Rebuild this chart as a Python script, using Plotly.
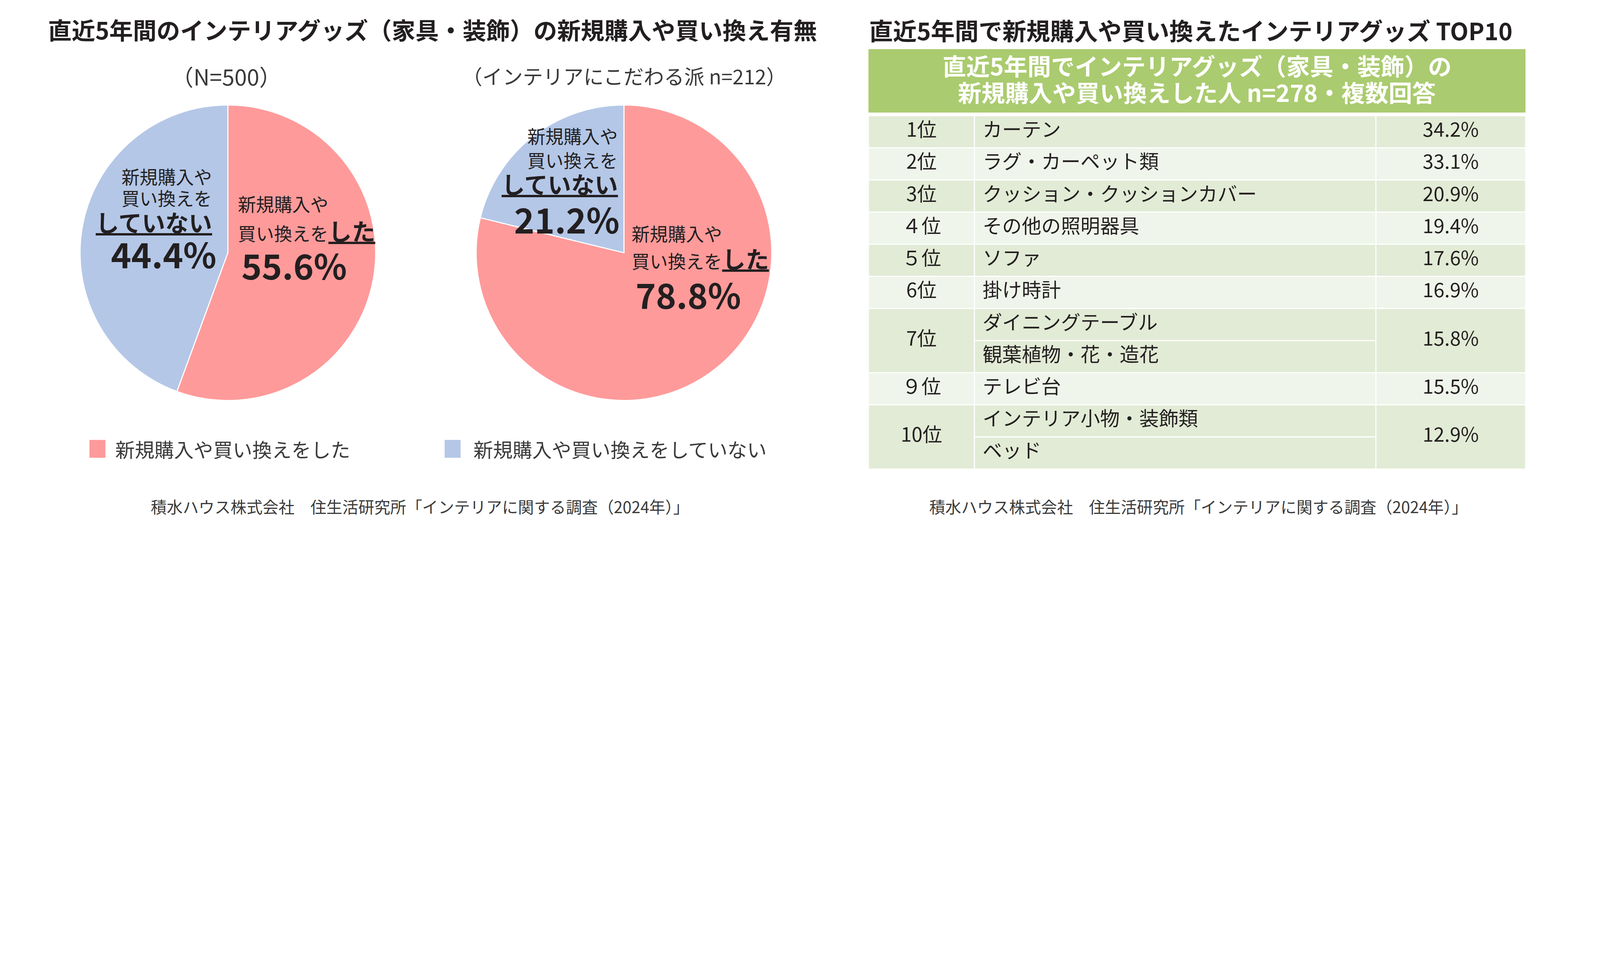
import plotly.graph_objects as go

# reference canvas (all positions below are in reference pixels)
W, H = 7484, 2489
# the viewer page is 4096 css px wide; scale the reference down to fit it
D = W / 4080
MARGIN = 8 * D      # default body margin of the page, in reference px
FONT = "Noto Sans CJK JP"
INK = "#231f20"
GREY = "#3a3a3a"

# --- pie data ---
pie_labels = ["新規購入や買い換えをした", "新規購入や買い換えをしていない"]
pie_all = [55.6, 44.4]      # N=500
pie_fans = [78.8, 21.2]     # インテリアにこだわる派 n=212
pie_colors = ["#ff9a9a", "#b4c7e7"]

# --- table data ---
ranks = ["1位", "2位", "3位", "４位", "５位", "6位", "7位", "９位", "10位"]
items = [
    ["カーテン"],
    ["ラグ・カーペット類"],
    ["クッション・クッションカバー"],
    ["その他の照明器具"],
    ["ソファ"],
    ["掛け時計"],
    ["ダイニングテーブル", "観葉植物・花・造花"],
    ["テレビ台"],
    ["インテリア小物・装飾類", "ベッド"],
]
shares = [34.2, 33.1, 20.9, 19.4, 17.6, 16.9, 15.8, 15.5, 12.9]

row_colors = ["#e2ebd5", "#eff5ea"]
head_color = "#aacb6f"
col_edges = [0, 498, 2383, 3086]   # table units (reference px inside table)


def px(x):
    return (x - MARGIN) / W


def py(y):
    return 1 - (y - MARGIN) / H


def fs(v):
    return v / D


def ann(text, x, y, size, xanchor="center", color=INK):
    return dict(text=text, x=px(x), y=py(y), xref="paper", yref="paper",
                showarrow=False, xanchor=xanchor, yanchor="middle",
                font=dict(family=FONT, size=fs(size), color=color))


def pie_domain(cx, cy, r):
    return dict(x=[px(cx - r), px(cx + r)], y=[py(cy + r), py(cy - r)])


fig = go.Figure()

for vals, (cx, cy) in [(pie_all, (1070, 1187)), (pie_fans, (2930, 1187))]:
    fig.add_trace(go.Pie(
        labels=pie_labels, values=vals, sort=False, direction="clockwise",
        rotation=0, textinfo="none", hoverinfo="label+value",
        marker=dict(colors=pie_colors, line=dict(color="white", width=fs(5))),
        domain=pie_domain(cx, cy, 694), showlegend=False,
    ))

# --- table cells drawn on the table axes ---
shapes = []
rank_x, rank_y, item_x, item_y, item_t, pct_x, pct_y, pct_t = ([] for _ in range(8))
slot = 0
for i, (rk, its, v) in enumerate(zip(ranks, items, shares)):
    n = len(its)
    fill = row_colors[i % 2]
    cell = dict(type="rect", xref="x", yref="y", fillcolor=fill,
                line=dict(color="white", width=fs(5)), layer="below")
    shapes.append({**cell, "x0": col_edges[0], "x1": col_edges[1], "y0": slot, "y1": slot + n})
    for k in range(n):
        shapes.append({**cell, "x0": col_edges[1], "x1": col_edges[2],
                       "y0": slot + k, "y1": slot + k + 1})
        item_x.append(col_edges[1] + 38)
        item_y.append(slot + k + 0.5)
        item_t.append(its[k])
    shapes.append({**cell, "x0": col_edges[2], "x1": col_edges[3], "y0": slot, "y1": slot + n})
    rank_x.append((col_edges[0] + col_edges[1]) / 2)
    rank_y.append(slot + n / 2)
    pct_x.append((col_edges[2] + col_edges[3]) / 2)
    pct_y.append(slot + n / 2)
    pct_t.append(f"{v:.1f}%")
    slot += n

# header band
head_top = -2.08
shapes.append(dict(type="rect", xref="x", yref="y", x0=col_edges[0], x1=col_edges[3],
                   y0=head_top, y1=-0.1, fillcolor=head_color, line=dict(width=0), layer="below"))

tfont = dict(family=FONT, size=fs(92), color=INK)
fig.add_trace(go.Scatter(x=rank_x, y=rank_y, text=ranks, mode="text",
                         textposition="middle center", textfont=tfont,
                         hoverinfo="skip", showlegend=False))
fig.add_trace(go.Scatter(x=item_x, y=item_y, text=item_t, mode="text",
                         textposition="middle right", textfont=tfont,
                         hoverinfo="skip", showlegend=False))
fig.add_trace(go.Scatter(x=pct_x, y=pct_y, text=pct_t, mode="text",
                         textposition="middle center", textfont=tfont,
                         hoverinfo="skip", showlegend=False))

# legend squares
for j, (lab, col) in enumerate(zip(pie_labels, pie_colors)):
    x0 = [420, 2088][j]
    shapes.append(dict(type="rect", xref="paper", yref="paper",
                       x0=px(x0), x1=px(x0 + 75), y0=py(2150), y1=py(2066),
                       fillcolor=col, line=dict(width=0)))

source = "積水ハウス株式会社　住生活研究所「インテリアに関する調査（2024年）」"

annotations = [
    ann("<b>直近5年間のインテリアグッズ（家具・装飾）の新規購入や買い換え有無</b>", 2031, 137, 111),
    ann("<b>直近5年間で新規購入や買い換えたインテリアグッズ TOP10</b>", 4078, 140, 112, "left"),
    ann("（N=500）", 1063, 355, 105, color=GREY),
    ann("（インテリアにこだわる派 n=212）", 2931, 355, 95, color=GREY),
    # header
    ann("<b>直近5年間でインテリアグッズ（家具・装飾）の</b>", 5621, 306, 111, color="white"),
    ann("<b>新規購入や買い換えした人 n=278・複数回答</b>", 5621, 430, 111, color="white"),
    # legend text
    ann(pie_labels[0], 538, 2108, 92, "left", GREY),
    ann(pie_labels[1], 2220, 2108, 92, "left", GREY),
    # footers
    ann(source, 1972, 2378, 75, color=GREY),
    ann(source, 5628, 2378, 75, color=GREY),
]

big = 162
mid = 110
small = 85
# pie 1 labels
annotations += [
    ann("新規購入や", 1000, 827, small, "right"),
    ann("買い換えを", 1000, 927, small, "right"),
    ann("<b><u>していない</u></b>", 1000, 1040, mid, "right"),
    ann(f"<b>{pie_all[1]:.1f}%</b>", 1020, 1189, big, "right"),
    ann("新規購入や", 1113, 954, small, "left"),
    ann(f"買い換えを<span style='font-size:{fs(mid):.1f}px'><b><u>した</u></b></span>", 1113, 1081, small, "left"),
    ann(f"<b>{pie_all[0]:.1f}%</b>", 1130, 1243, big, "left"),
]
# pie 2 labels
annotations += [
    ann("新規購入や", 2905, 635, small, "right"),
    ann("買い換えを", 2905, 749, small, "right"),
    ann("<b><u>していない</u></b>", 2905, 861, mid, "right"),
    ann(f"<b>{pie_fans[1]:.1f}%</b>", 2913, 1027, big, "right"),
    ann("新規購入や", 2963, 1094, small, "left"),
    ann(f"買い換えを<span style='font-size:{fs(mid):.1f}px'><b><u>した</u></b></span>", 2963, 1212, small, "left"),
    ann(f"<b>{pie_fans[0]:.1f}%</b>", 2980, 1380, big, "left"),
]

fig.update_layout(
    width=round(W / D), height=round(H / D),
    margin=dict(l=0, r=0, t=0, b=0),
    paper_bgcolor="white", plot_bgcolor="white",
    font=dict(family=FONT, color=INK),
    xaxis=dict(domain=[px(4078), px(7164)], range=[col_edges[0], col_edges[3]],
               visible=False, fixedrange=True),
    yaxis=dict(domain=[py(2203), py(230)], range=[slot, head_top],
               visible=False, fixedrange=True),
    shapes=shapes,
    annotations=annotations,
    showlegend=False,
)

fig.write_html("out.html")
